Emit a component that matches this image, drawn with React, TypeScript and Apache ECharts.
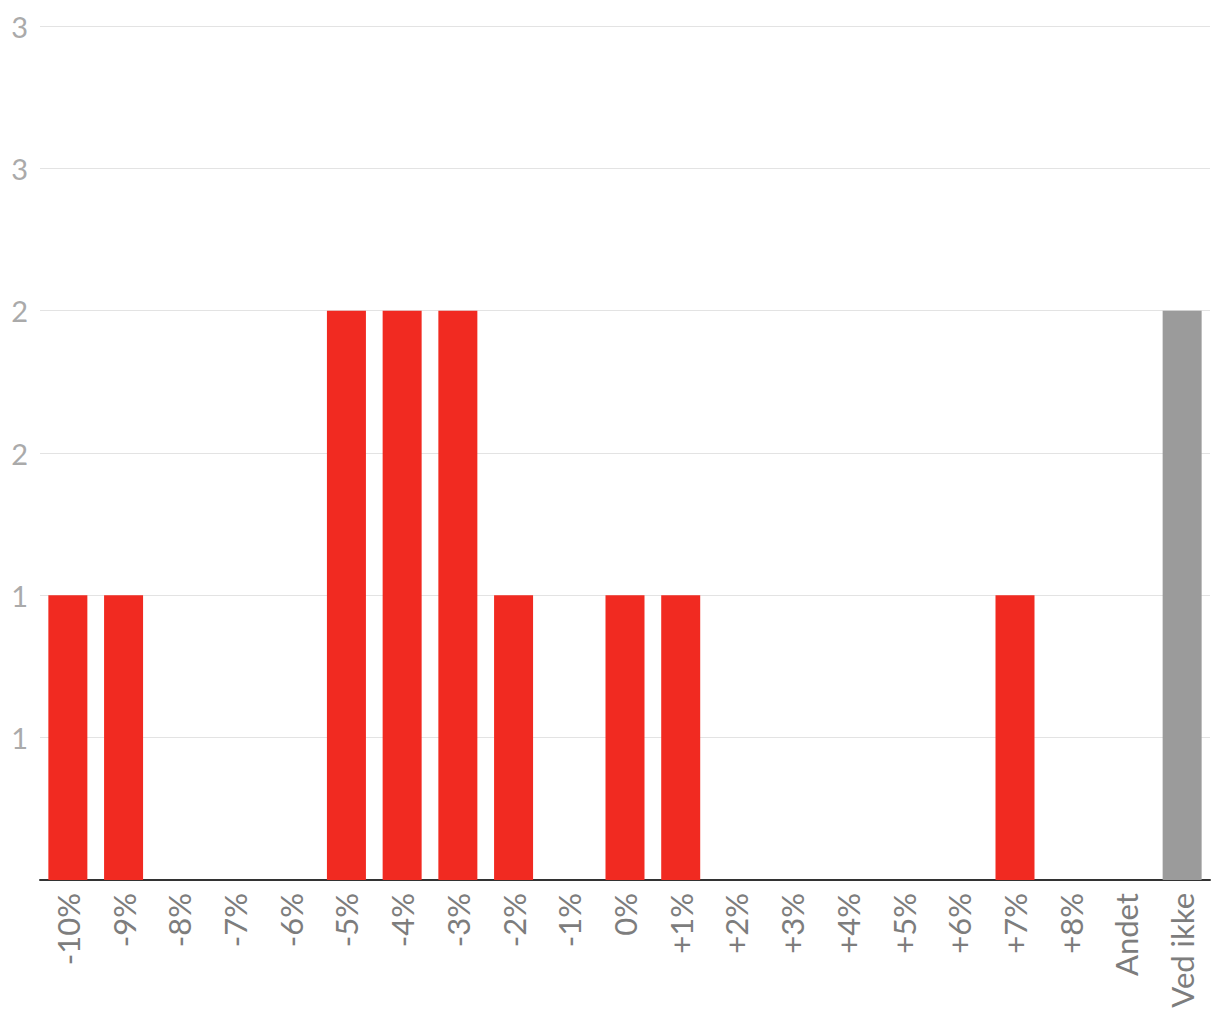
import React, { useEffect, useRef } from "react";
import * as echarts from "echarts";

const categories = ["-10%", "-9%", "-8%", "-7%", "-6%", "-5%", "-4%", "-3%", "-2%", "-1%", "0%", "+1%", "+2%", "+3%", "+4%", "+5%", "+6%", "+7%", "+8%", "Andet", "Ved ikke"];
const values = [1, 1, 0, 0, 0, 2, 2, 2, 1, 0, 1, 1, 0, 0, 0, 0, 0, 1, 0, 0, 2];
const greyCategories = ["Ved ikke"];

export default function App() {
  const ref = useRef<HTMLDivElement>(null);
  useEffect(() => {
    const chart = echarts.init(ref.current!, null, { renderer: "svg" });
    chart.setOption({
      animation: false,
      grid: { left: 40, right: 10, top: 26, bottom: 140, containLabel: false },
      xAxis: {
        type: "category",
        data: categories,
        axisLine: { lineStyle: { color: "#333", width: 2 } },
        axisTick: { show: false },
        axisLabel: { rotate: 90, color: "#7d7d7d", fontSize: 31, fontFamily: "Lato", margin: 13, interval: 0 },
      },
      yAxis: {
        type: "value",
        min: 0,
        max: 3,
        interval: 0.5,
        axisLine: { show: false },
        axisTick: { show: false },
        splitLine: { lineStyle: { color: "#e3e3e3", width: 1 } },
        axisLabel: {
          color: "#aaaaaa",
          fontSize: 29,
          fontFamily: "Lato",
          margin: 12,
          formatter: (v: number) => (v === 0 ? "" : String(Math.round(v))),
        },
      },
      series: [
        {
          type: "bar",
          barCategoryGap: "30%",
          data: values.map((v, i) => ({
            value: v,
            itemStyle: { color: greyCategories.includes(categories[i]) ? "#9b9b9b" : "#f12a21" },
          })),
        },
      ],
    });
    return () => chart.dispose();
  }, []);
  return <div ref={ref} style={{ position: "absolute", left: 0, top: 0, width: 1220, height: 1020 }} />;
}
